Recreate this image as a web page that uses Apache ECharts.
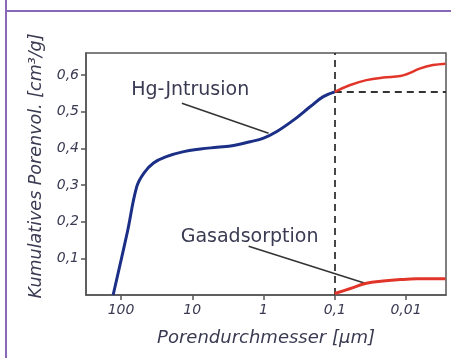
<!DOCTYPE html>
<html><head><meta charset="utf-8">
<script src="https://cdn.jsdelivr.net/npm/echarts@6/dist/echarts.min.js"></script>
<style>html,body{margin:0;padding:0;background:#fff}#c{width:451px;height:358px}</style>
</head><body><div id="c"></div>
<script>
// Hg-Intrusion (blue part up to 0.1 µm)
const hgDiam = [129, 82, 60, 48, 35, 22.6, 13.2, 7.7, 4.5, 2.63, 1.54, 1.0, 0.65, 0.38, 0.22, 0.145, 0.1];
const hgVol  = [0.0, 0.169, 0.296, 0.332, 0.36, 0.378, 0.391, 0.398, 0.403, 0.408, 0.418, 0.428, 0.446, 0.477, 0.514, 0.541, 0.554];
// Hg-Intrusion continuation (red, below 0.1 µm)
const hgRedDiam = [0.1, 0.062, 0.036, 0.021, 0.012, 0.0098, 0.0063, 0.0042, 0.0028];
const hgRedVol  = [0.554, 0.572, 0.586, 0.593, 0.597, 0.602, 0.618, 0.627, 0.631];
// Gasadsorption
const gasDiam = [0.1, 0.062, 0.036, 0.021, 0.012, 0.0071, 0.0028];
const gasVol  = [0.004, 0.017, 0.032, 0.038, 0.042, 0.044, 0.044];
// ticks
const xTicks = [100, 10, 1, 0.1, 0.01];
const xTickLabels = ['100', '10', '1', '0,1', '0,01'];
const yTicks = [0.1, 0.2, 0.3, 0.4, 0.5, 0.6];
const yTickLabels = ['0,1', '0,2', '0,3', '0,4', '0,5', '0,6'];
// annotation anchors [diameter, volume]
const hgLabelAt = [10.7, 0.559];
const hgLeader = [[14, 0.523], [0.85, 0.441]];
const gasLabelAt = [1.57, 0.159];
const gasLeader = [[1.62, 0.133], [0.0376, 0.032]];
const refDiam = 0.1, refVol = 0.554;
const xMin = 0.00275, xMax = 310, yMax = 0.66;

const zip = (a, b) => a.map((v, i) => [v, b[i]]);
const txt = '#3a3a52';
const font = 'DejaVu Sans';
const chart = echarts.init(document.getElementById('c'));
chart.setOption({
  backgroundColor: '#fff',
  animation: false,
  graphic: [
    {type:'line', shape:{x1:6,y1:0,x2:6,y2:358}, style:{stroke:'#8a68b8',lineWidth:2}},
    {type:'line', shape:{x1:5,y1:11,x2:451,y2:11}, style:{stroke:'#8a68b8',lineWidth:2}}
  ],
  grid: {left: 86, right: 5, top: 53, bottom: 63, show: true, borderColor: '#555', borderWidth: 1.5, backgroundColor:'#fff'},
  xAxis: {
    type: 'log', logBase: 10, min: xMin, max: xMax, inverse: true,
    name: 'Porendurchmesser [µm]', nameLocation: 'middle', nameGap: 34,
    nameTextStyle: {fontSize: 18, fontStyle: 'italic', color: txt, fontFamily: font},
    axisLine: {lineStyle: {color: '#555', width: 1.5}},
    axisTick: {customValues: xTicks, length: 5, lineStyle: {color: '#555', width: 1.5}},
    axisLabel: {customValues: xTicks, fontSize: 14, fontStyle: 'italic', color: txt, fontFamily: font, margin: 8,
      formatter: v => xTickLabels[xTicks.findIndex(t => Math.abs(Math.log10(t) - Math.log10(v)) < 1e-6)] || ''},
    splitLine: {show: false}, minorTick: {show: false}
  },
  yAxis: {
    type: 'value', min: 0, max: yMax,
    name: 'Kumulatives Porenvol. [cm³/g]', nameLocation: 'middle', nameGap: 36,
    nameTextStyle: {fontSize: 17.5, fontStyle: 'italic', color: txt, fontFamily: font, padding: [0, 0, 0, 16]},
    axisLine: {show: true, lineStyle: {color: '#555', width: 1.5}},
    axisTick: {customValues: yTicks, length: 5, lineStyle: {color: '#555', width: 1.5}},
    axisLabel: {customValues: yTicks, fontSize: 14, fontStyle: 'italic', color: txt, fontFamily: font, margin: 7,
      formatter: v => yTickLabels[yTicks.findIndex(t => Math.abs(t - v) < 1e-6)] || ''},
    splitLine: {show: false}
  },
  series: [
    {type: 'line', data: zip(hgDiam, hgVol), smooth: 0.4, symbol: 'none', lineStyle: {color: '#1c2f86', width: 3}, z: 5,
      markLine: {silent: true, symbol: 'none', label: {show: false},
        data: [
          [{coord: [refDiam, 0], lineStyle:{type:[7,5], color:'#333', width:1.8}}, {coord: [refDiam, yMax]}],
          [{coord: [refDiam, refVol], lineStyle:{type:[7,5], color:'#333', width:1.8}}, {coord: [xMin, refVol]}],
          [{coord: hgLeader[0], lineStyle:{type:'solid', color:'#333', width:1.5}}, {coord: hgLeader[1]}],
          [{coord: gasLeader[0], lineStyle:{type:'solid', color:'#333', width:1.5}}, {coord: gasLeader[1]}]
        ]},
      markPoint: {symbol: 'circle', symbolSize: 0, silent: true,
        label: {show: true, position: 'inside', color: txt, fontSize: 19, fontFamily: font, fontStyle: 'normal'},
        data: [
          {coord: hgLabelAt, label: {formatter: 'Hg-Jntrusion'}},
          {coord: gasLabelAt, label: {formatter: 'Gasadsorption'}}
        ]}
    },
    {type: 'line', data: zip(hgRedDiam, hgRedVol), smooth: 0.4, symbol: 'none', lineStyle: {color: '#e2352a', width: 2.5}, z: 5},
    {type: 'line', data: zip(gasDiam, gasVol), smooth: 0.4, symbol: 'none', lineStyle: {color: '#e2352a', width: 3}, z: 5}
  ]
});
</script></body></html>
